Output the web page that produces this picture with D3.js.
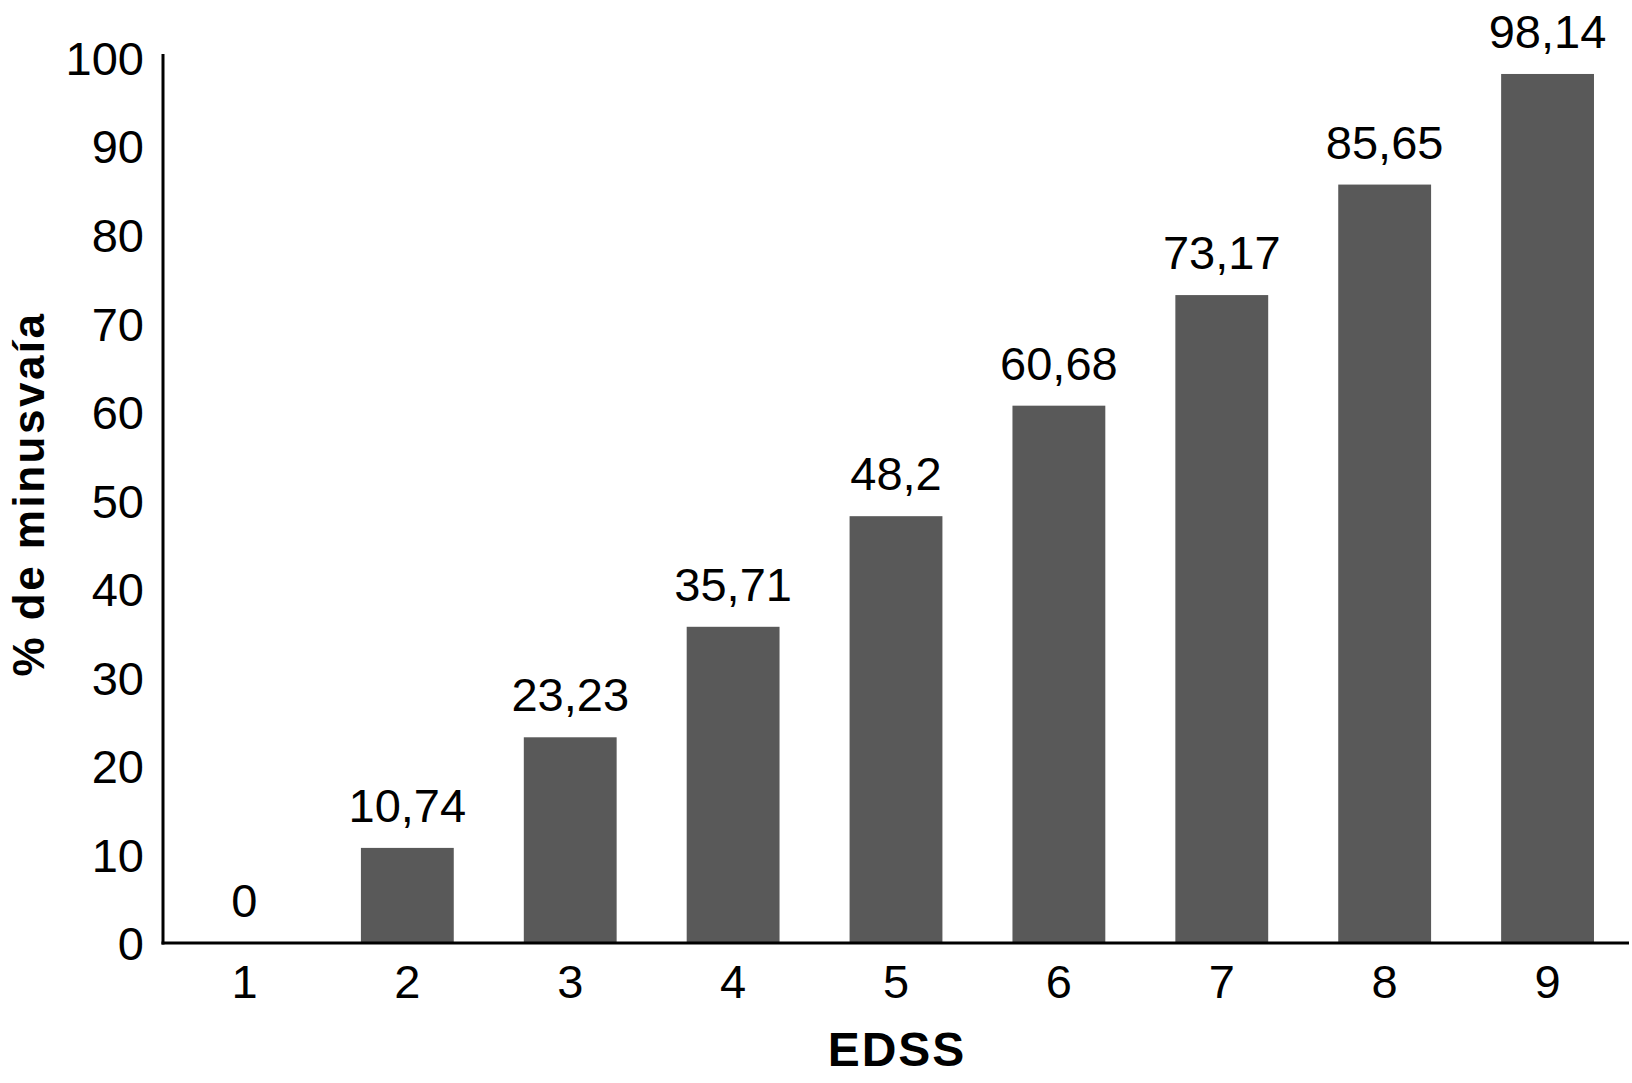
<!DOCTYPE html>
<html>
<head>
<meta charset="utf-8">
<script src="https://cdn.jsdelivr.net/npm/d3@7"></script>
<style>
  html, body { margin: 0; padding: 0; background: #fff; }
  text { font-family: "Liberation Sans", Arial, Helvetica, sans-serif; fill: #000; }
</style>
</head>
<body>
<svg id="chart" width="1632" height="1083"></svg>
<script>
const categories = ["1", "2", "3", "4", "5", "6", "7", "8", "9"];
const values = [0, 10.74, 23.23, 35.71, 48.2, 60.68, 73.17, 85.65, 98.14];
const valueLabels = ["0", "10,74", "23,23", "35,71", "48,2", "60,68", "73,17", "85,65", "98,14"];
const yTicks = [0, 10, 20, 30, 40, 50, 60, 70, 80, 90, 100];
const xTitle = "EDSS";
const yTitle = "% de minusvaía";

const svg = d3.select("#chart");
const x0 = 163, x1 = 1629, yBase = 943, yTop = 57.5;

const x = d3.scaleBand().domain(categories).range([x0, x1]).paddingInner(0.43).paddingOuter(0.215);
const y = d3.scaleLinear().domain([0, 100]).range([yBase, yTop]);

// bars
svg.append("g").selectAll("rect").data(values).join("rect")
  .attr("x", (d, i) => x(categories[i]))
  .attr("width", x.bandwidth())
  .attr("y", d => y(d))
  .attr("height", d => y(0) - y(d))
  .attr("fill", "#595959");

// value labels
svg.append("g").selectAll("text").data(values).join("text")
  .attr("x", (d, i) => x(categories[i]) + x.bandwidth() / 2)
  .attr("y", d => y(d) - 26)
  .attr("text-anchor", "middle")
  .attr("font-size", 47)
  .text((d, i) => valueLabels[i]);

// y axis
const yAxis = d3.axisLeft(y).tickValues(yTicks).tickSize(0).tickPadding(19).tickFormat(d3.format("d"));
const gy = svg.append("g").attr("transform", `translate(${x0},0)`).call(yAxis);
gy.select(".domain").remove();
gy.selectAll("text").attr("font-size", 47).attr("dy", "0.36em")
  .style("font-family", '"Liberation Sans", Arial, sans-serif').attr("fill", "#000");
svg.append("line").attr("x1", x0).attr("x2", x0).attr("y1", 54).attr("y2", yBase + 1.5)
  .attr("stroke", "#000").attr("stroke-width", 3);

// x axis
const xAxis = d3.axisBottom(x).tickSize(0).tickPadding(22);
const gx = svg.append("g").attr("transform", `translate(0,${yBase})`).call(xAxis);
gx.select(".domain").remove();
gx.selectAll("text").attr("font-size", 47).attr("dy", "0.71em")
  .style("font-family", '"Liberation Sans", Arial, sans-serif').attr("fill", "#000");
svg.append("line").attr("x1", x0 - 1.5).attr("x2", x1).attr("y1", yBase).attr("y2", yBase)
  .attr("stroke", "#000").attr("stroke-width", 3);

// titles
svg.append("text")
  .attr("x", (x0 + x1) / 2 + 1).attr("y", 1066)
  .attr("text-anchor", "middle").attr("font-size", 48).attr("font-weight", "bold")
  .attr("letter-spacing", "2px")
  .text(xTitle);

svg.append("text")
  .attr("transform", "translate(44,494) rotate(-90)")
  .attr("text-anchor", "middle").attr("font-size", 44).attr("font-weight", "bold")
  .attr("letter-spacing", "2.5px")
  .text(yTitle);
</script>
</body>
</html>
